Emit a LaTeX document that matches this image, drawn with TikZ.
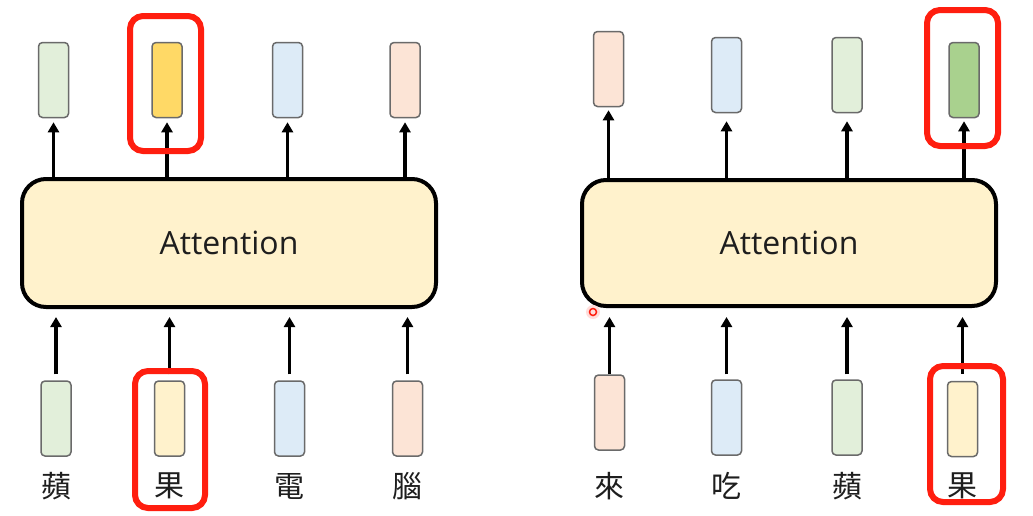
\documentclass[tikz,border=0pt]{standalone}
\usepackage{fontspec}
\setmainfont{Open Sans}
\newfontfamily\cjk{Noto Sans CJK TC}
\usetikzlibrary{arrows.meta}
\definecolor{attfill}{HTML}{FFF2CC}
\definecolor{vgreen}{HTML}{E2EFDA}
\definecolor{vblue}{HTML}{DDEBF7}
\definecolor{vpeach}{HTML}{FCE4D6}
\definecolor{vyellow}{HTML}{FFF2CC}
\definecolor{vgold}{HTML}{FFD966}
\definecolor{vdgreen}{HTML}{A9D18E}
\definecolor{hlred}{HTML}{FF1E0F}
\definecolor{vborder}{HTML}{6A6A6A}
\definecolor{txt}{HTML}{1E1E1E}
\begin{document}
\begin{tikzpicture}[x=1pt,y=-1pt,
  vec/.style={draw=vborder,line width=1.5pt,rounded corners=4pt,minimum width=30pt,minimum height=75pt,inner sep=0pt},
  att/.style={draw=black,line width=4pt,fill=attfill,rounded corners=24pt,minimum width=414pt,minimum height=128pt,inner sep=0pt,font=\fontsize{32}{38}\selectfont,text=txt},
  arr/.style={line width=3.5pt,-{Triangle[width=11pt,length=10pt]}},
  hl/.style={draw=hlred,line width=6pt,rounded corners=13pt,inner sep=0pt},
  lbl/.style={font=\cjk\fontsize{30}{34}\selectfont,text=txt,inner sep=0pt}]
\useasboundingbox (0,0) rectangle (1033,515);
\fill[white] (0,0) rectangle (1033,515);
% ---------- left panel ----------
\node[att] (attL) at (229,243) {Attention};
\node[vec,fill=vgreen]  (lt1) at (53.5,80) {};
\node[vec,fill=vgold]   (lt2) at (167,80) {};
\node[vec,fill=vblue]   (lt3) at (287.5,80) {};
\node[vec,fill=vpeach]  (lt4) at (405,80) {};
\node[vec,fill=vgreen]  (lb1) at (56,418.5) {};
\node[vec,fill=vyellow] (lb2) at (169.5,418.5) {};
\node[vec,fill=vblue]   (lb3) at (289.5,418.5) {};
\node[vec,fill=vpeach]  (lb4) at (407.5,418.5) {};
\node[lbl] (ll1) at (56,486) {蘋};
\node[lbl] (ll2) at (169.5,486) {果};
\node[lbl] (ll3) at (289.5,486) {電};
\node[lbl] (ll4) at (407.5,486) {腦};
\foreach \i in {1,...,4}{
  \draw[arr,shorten >=4pt] (attL.north -| lt\i.south) -- (lt\i.south);
  \draw[arr,shorten <=6pt,shorten >=8pt] (lb\i.north) -- (lb\i.north |- attL.south);
}
\node[hl,minimum width=71pt,minimum height=135pt] (hlLt) at (165.5,83.5) {};
\node[hl,minimum width=70pt,minimum height=137pt] (hlLb) at (170,439.5) {};
% ---------- right panel ----------
\node[att,minimum height=126pt] (attR) at (789,243) {Attention};
\node[vec,fill=vpeach]  (rt1) at (608.5,69) {};
\node[vec,fill=vblue]   (rt2) at (726.5,75) {};
\node[vec,fill=vgreen]  (rt3) at (847,75) {};
\node[vec,fill=vdgreen] (rt4) at (964,80) {};
\node[vec,fill=vpeach]  (rb1) at (609.5,412.5) {};
\node[vec,fill=vblue]   (rb2) at (726.5,417.5) {};
\node[vec,fill=vgreen]  (rb3) at (847,417.5) {};
\node[vec,fill=vyellow] (rb4) at (962.5,419) {};
\node[lbl] (rl1) at (609.5,486) {來};
\node[lbl] (rl2) at (726.5,486) {吃};
\node[lbl] (rl3) at (847,486) {蘋};
\node[lbl] (rl4) at (962.5,486) {果};
\draw[arr,shorten >=3pt] (attR.north -| rt1.south) -- (rt1.south);
\draw[arr,shorten >=8pt] (attR.north -| rt2.south) -- (rt2.south);
\draw[arr,shorten >=8pt] (attR.north -| rt3.south) -- (rt3.south);
\draw[arr,shorten >=3pt] (attR.north -| rt4.south) -- (rt4.south);
\draw[arr,shorten <=0pt,shorten >=9pt] (rb1.north) -- (rb1.north |- attR.south);
\draw[arr,shorten <=5pt,shorten >=9pt] (rb2.north) -- (rb2.north |- attR.south);
\draw[arr,shorten <=5pt,shorten >=9pt] (rb3.north) -- (rb3.north |- attR.south);
\draw[arr,shorten <=7pt,shorten >=9pt] (rb4.north) -- (rb4.north |- attR.south);
\node[hl,minimum width=71pt,minimum height=136pt] (hlRt) at (962.5,78) {};
\node[hl,minimum width=73pt,minimum height=136pt] (hlRb) at (966.5,434) {};
% pointer mark
\fill[hlred!15] (593,312) circle (7pt);
\node[circle,draw=hlred,line width=1.5pt,minimum size=7pt,inner sep=0pt] (ptr) at (593,312) {};
\end{tikzpicture}
\end{document}
